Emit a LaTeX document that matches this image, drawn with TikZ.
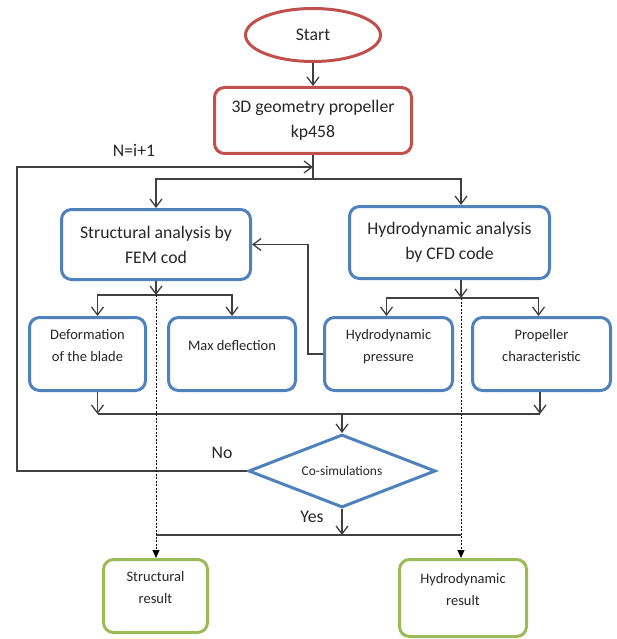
\documentclass[tikz,border=0pt]{standalone}
\usepackage{fontspec}
\setmainfont{Carlito}
\usetikzlibrary{arrows.meta}
\usetikzlibrary{shapes.geometric}
\definecolor{mred}{RGB}{192, 80, 77}
\definecolor{mblue}{RGB}{79, 129, 189}
\definecolor{mgreen}{RGB}{155, 187, 89}
\definecolor{lgray}{RGB}{64, 64, 64}
\definecolor{tgray}{RGB}{38, 38, 38}
\newcommand{\mainsize}{\fontsize{17.7}{25}\selectfont}
\newcommand{\subsize}{\fontsize{14.5}{21.5}\selectfont}
\newcommand{\diasize}{\fontsize{13.4}{16}\selectfont}
\tikzset{conn/.style = {draw = lgray, line width = 1.3pt}}
\tikzset{flow/.style = {conn, -{Straight Barb[length = 8pt, width = 12pt]}}}
\tikzset{dotflow/.style = {draw = black, line width = 1pt, dash pattern = on 2pt off 1.5pt,
                           -{Triangle[length = 8pt, width = 7pt]}}}
\tikzset{txt/.style = {text = tgray, inner sep = 0}}
\tikzset{bigbox/.style = {rectangle, rounded corners = 10pt, line width = 3pt, align = center,
                          text = tgray, font = \mainsize}}
\tikzset{subbox/.style = {rectangle, rounded corners = 10pt, line width = 3pt, align = center,
                          text = tgray, font = \subsize, text depth = 17pt,
                          minimum height = 73pt}}

\begin{document}
\begin{tikzpicture}[x = 1pt, y = -1pt]
    \useasboundingbox (0, 0) rectangle (617, 639);

    \node [ellipse, draw = mred, line width = 3pt, minimum width = 135pt, minimum height = 53pt,
           text = tgray, font = \mainsize] (start) at (313, 35) {Start};
    \node [bigbox, draw = mred, minimum width = 197pt, minimum height = 66pt] (geom)
        at (313, 120.5) {3D geometry propeller\\kp458};

    \node [bigbox, draw = mblue, minimum width = 189pt, minimum height = 70pt] (struct)
        at (156, 244.5) {Structural analysis by\\FEM cod};
    \node [bigbox, draw = mblue, minimum width = 200pt, minimum height = 72pt] (hydro)
        at (449.5, 242.5) {Hydrodynamic analysis\\by CFD code};

    \node [subbox, draw = mblue, minimum width = 116pt] (deform) at (87.5, 354) {Deformation\\of the blade};
    \node [subbox, draw = mblue, minimum width = 127pt] (maxdef) at (232, 354) {Max deflection};
    \node [subbox, draw = mblue, minimum width = 128pt] (press) at (388.5, 354) {Hydrodynamic\\pressure};
    \node [subbox, draw = mblue, minimum width = 138pt] (propc) at (541.5, 354) {Propeller\\characteristic};

    \node [diamond, aspect = 2.5, inner sep = 0, draw = mblue, line width = 3pt,
           minimum width = 187pt, minimum height = 73pt, text = tgray, font = \diasize] (cosim)
        at (342, 471) {Co-simulations};

    \node [subbox, draw = mgreen, minimum width = 104pt] (sres) at (155.5, 596) {Structural\\result};
    \node [subbox, draw = mgreen, minimum width = 127pt, minimum height = 77pt] (hres)
        at (463, 598) {Hydrodynamic\\result};

    \node [txt, font = \mainsize] (iter) at (134, 150) {N=i+1};
    \node [txt, font = \mainsize] (no) at (222, 453) {No};
    \node [txt, font = \mainsize] (yes) at (312, 517) {Yes};

    \coordinate (split1) at (313, 179);
    \coordinate (split2) at (156, 295);
    \coordinate (split3) at (461, 298);
    \coordinate (merge) at (342, 414);
    \coordinate (join) at (342, 535);
    \coordinate (fbleft) at (17, 471);
    \coordinate (fbin) at (313, 167);

    \draw [flow] (start) -- (geom);
    \draw [conn] (geom) -- (split1);
    \draw [flow] (split1) -| (struct.north -| split2);
    \draw [flow] (split1) -| (hydro.north -| split3);

    \draw [flow] (struct.south -| split2) -- (split2);
    \draw [flow] (split2) -| ([xshift = 10pt]deform.north);
    \draw [flow] (split2) -| (maxdef.north);
    \draw [flow] (hydro.south -| split3) -- (split3);
    \draw [flow] (split3) -| ([xshift = -2pt]press.north);
    \draw [flow] (split3) -| ([xshift = -3pt]propc.north);

    \draw [flow] (press.west) -- ++(-15, 0) |- (struct.east);

    \draw [flow] ([xshift = 10pt]deform.south) -- ([xshift = 10pt]deform.south |- merge);
    \draw [flow] ([xshift = -1.5pt]propc.south) -- ([xshift = -1.5pt]propc.south |- merge);
    \draw [conn] ([xshift = 10pt]deform.south |- merge) -- ([xshift = -1.5pt]propc.south |- merge);
    \draw [flow] (merge) -- (cosim.north);

    \draw [flow] (cosim.west) -- (fbleft) |- (fbin);
    \draw [flow] (cosim.south) -- (join);
    \draw [conn] (join -| split2) -- (join -| split3);

    \draw [dotflow] (split2) -- (sres.north -| split2);
    \draw [dotflow] (split3) -- (hres.north -| split3);
\end{tikzpicture}
\end{document}
